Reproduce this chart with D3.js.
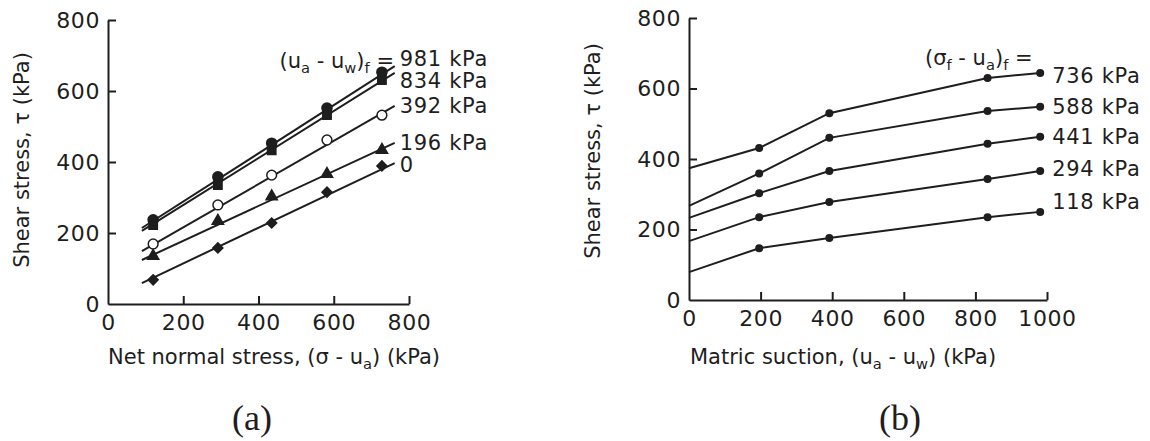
<!DOCTYPE html>
<html>
<head>
<meta charset="utf-8">
<script src="https://cdn.jsdelivr.net/npm/d3@7"></script>
<style>
  body { margin: 0; background: #fff; }
  svg text { font-family: "DejaVu Sans", sans-serif; fill: #1e1e1e; }
  .axis path, .axis line { stroke: #1e1e1e; stroke-width: 2; }
  .axis text { font-size: 22px; letter-spacing: 0.6px; }
  .title { font-size: 21px; }
  .lab { font-size: 21px; letter-spacing: 0.7px; }
  .panel { font-family: "Liberation Serif", serif !important; font-size: 36px; }
</style>
</head>
<body>
<svg id="chart" width="1150" height="441"></svg>
<script>
// (a) shear stress vs net normal stress, one line per matric suction
const suctionLabels = ['981 kPa', '834 kPa', '392 kPa', '196 kPa', '0'];
const netStress = [120, 292, 435, 582, 728];
const tauA = [
  [237, 358, 453, 552, 653],
  [222, 335, 433, 532, 631],
  [169, 279, 363, 462, 532],
  [135, 234, 303, 366, 434],
  [68, 158, 228, 315, 389]
];
// fitted lines, read at both ends
const fitRangeA = [90, 762];
const fitA = [[214, 670], [206, 651], [149, 558], [124, 454], [59, 397]];

// (b) shear stress vs matric suction, one line per net normal stress
const sigmaLabels = ['736 kPa', '588 kPa', '441 kPa', '294 kPa', '118 kPa'];
const suction = [0, 196, 392, 834, 981];
const tauB = [
  [374, 431, 530, 630, 644],
  [267, 359, 460, 536, 548],
  [233, 303, 366, 443, 463],
  [167, 235, 278, 343, 366],
  [79, 147, 176, 235, 250]
];

const ticksA = [0, 200, 400, 600, 800];
const ticksB = [0, 200, 400, 600, 800, 1000];
const ticksTau = [0, 200, 400, 600, 800];

const svg = d3.select('#chart');
const ink = '#1e1e1e';

function drawAxes(x, y, xTicks) {
  const [x0] = x.range();
  const [y0] = y.range();
  svg.append('g')
      .attr('class', 'axis')
      .attr('transform', 'translate(0,' + y0 + ')')
      .call(d3.axisBottom(x).tickValues(xTicks).tickFormat(d3.format('d'))
        .tickSizeInner(-8).tickSizeOuter(0).tickPadding(10))
      .call(g => g.selectAll('.tick line').filter(d => d === 0).remove());
  svg.append('g')
      .attr('class', 'axis')
      .attr('transform', 'translate(' + x0 + ',0)')
      .call(d3.axisLeft(y).tickValues(ticksTau).tickFormat(d3.format('d'))
        .tickSizeInner(-8).tickSizeOuter(0).tickPadding(8))
      .call(g => g.selectAll('.tick line').filter(d => d === 0).remove());
  svg.selectAll('.axis .domain').attr('stroke', ink);
  svg.selectAll('.axis text').attr('fill', ink).attr('font-family', 'DejaVu Sans');
}

function yTitle(xPos, yMid) {
  svg.append('text')
      .attr('class', 'title')
      .attr('text-anchor', 'middle')
      .attr('transform', 'translate(' + xPos + ',' + yMid + ') rotate(-90)')
      .text('Shear stress, \u03c4 (kPa)');
}

// parts: [text, isSub]
function richText(x, y, parts, anchor, cls) {
  const t = svg.append('text')
      .attr('class', cls)
      .attr('x', x)
      .attr('y', y)
      .attr('text-anchor', anchor);
  let shifted = false;
  parts.forEach(([s, sub]) => {
    const sp = t.append('tspan').text(s);
    if (sub && !shifted) { sp.attr('dy', 5).attr('font-size', '70%'); shifted = true; }
    else if (sub) { sp.attr('font-size', '70%'); }
    else if (shifted) { sp.attr('dy', -5); shifted = false; }
  });
  return t;
}

// ---------- panel (a)
const xA = d3.scaleLinear().domain([0, 800]).range([108, 409]);
const yA = d3.scaleLinear().domain([0, 800]).range([304, 20]);
drawAxes(xA, yA, ticksA);
yTitle(29, 160);
richText(108, 364, [['Net normal stress, (\u03c3 - u'], ['a', true], [') (kPa)']], 'start', 'title');

const lineA = d3.line().x(d => xA(d[0])).y(d => yA(d[1]));
fitA.forEach(f => {
  svg.append('path')
      .attr('d', lineA([[fitRangeA[0], f[0]], [fitRangeA[1], f[1]]]))
      .attr('fill', 'none')
      .attr('stroke', ink)
      .attr('stroke-width', 2);
});

const markA = [
  { type: d3.symbolCircle, size: 80, fill: ink, rot: 0 },
  { type: d3.symbolSquare, size: 70, fill: ink, rot: 0 },
  { type: d3.symbolCircle, size: 75, fill: '#fff', rot: 0 },
  { type: d3.symbolTriangle, size: 55, fill: ink, rot: 0 },
  { type: d3.symbolSquare, size: 50, fill: ink, rot: 45 }
];
tauA.forEach((vals, i) => {
  const m = markA[i];
  svg.append('g').selectAll('path')
      .data(vals.map((v, j) => [netStress[j], v]))
      .join('path')
      .attr('transform', d => 'translate(' + xA(d[0]) + ',' + yA(d[1]) + ') rotate(' + m.rot + ')')
      .attr('d', d3.symbol().type(m.type).size(m.size))
      .attr('fill', m.fill)
      .attr('stroke', ink)
      .attr('stroke-width', 1.5);
});

// labels at the line ends, pushed apart where they crowd
const labYA = fitA.map(f => yA(f[1]));
for (let i = 1; i < labYA.length; i++) {
  const gap = labYA[i] - labYA[i - 1];
  if (gap < 22) {
    labYA[i - 1] -= (22 - gap) / 2;
    labYA[i] += (22 - gap) / 2;
  }
}
suctionLabels.forEach((s, i) => {
  svg.append('text')
      .attr('class', 'lab')
      .attr('x', xA(fitRangeA[1]) + 5)
      .attr('y', labYA[i])
      .attr('dy', '0.36em')
      .text(s);
});
richText(394, 68, [['(u'], ['a', true], [' - u'], ['w', true], [')'], ['f', true], [' =']], 'end', 'title');

svg.append('text').attr('class', 'panel').attr('x', 252).attr('y', 430)
    .attr('text-anchor', 'middle').attr('font-family', 'Liberation Serif').text('(a)');

// ---------- panel (b)
const xB = d3.scaleLinear().domain([0, 1000]).range([689, 1047]);
const yB = d3.scaleLinear().domain([0, 800]).range([300, 18]);
drawAxes(xB, yB, ticksB);
yTitle(600, 151);
richText(690, 364, [['Matric suction, (u'], ['a', true], [' - u'], ['w', true], [') (kPa)']], 'start', 'title');

const lineB = d3.line().x((d, j) => xB(suction[j])).y(d => yB(d));
const labDyB = [2, 0, 0, -3, -10];
tauB.forEach((vals, i) => {
  svg.append('path')
      .attr('d', lineB(vals))
      .attr('fill', 'none')
      .attr('stroke', ink)
      .attr('stroke-width', 2);
  svg.append('g').selectAll('circle')
      .data(vals.slice(1).map((v, j) => [suction[j + 1], v]))
      .join('circle')
      .attr('cx', d => xB(d[0]))
      .attr('cy', d => yB(d[1]))
      .attr('r', 4)
      .attr('fill', ink);
  svg.append('text')
      .attr('class', 'lab')
      .attr('x', xB(suction[suction.length - 1]) + 12)
      .attr('y', yB(vals[vals.length - 1]) + labDyB[i])
      .attr('dy', '0.36em')
      .text(sigmaLabels[i]);
});
richText(925, 65, [['(\u03c3'], ['f', true], [' - u'], ['a', true], [')'], ['f', true], [' =']], 'start', 'title');

svg.append('text').attr('class', 'panel').attr('x', 900).attr('y', 430)
    .attr('text-anchor', 'middle').attr('font-family', 'Liberation Serif').text('(b)');
</script>
</body>
</html>
